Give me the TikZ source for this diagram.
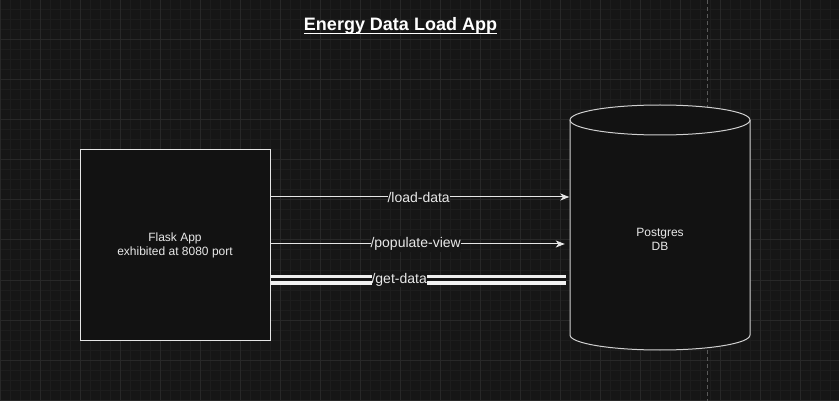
\documentclass[tikz,border=0pt]{standalone}
\usepackage{fontspec}
\setmainfont{Liberation Sans}
\usetikzlibrary{arrows.meta}
\definecolor{bgc}{HTML}{161616}
\definecolor{minorc}{HTML}{1D1D1D}
\definecolor{majorc}{HTML}{282828}
\definecolor{shapefill}{HTML}{121212}
\definecolor{strokec}{HTML}{E6E6E6}
\definecolor{txtc}{HTML}{E8E8E8}
\definecolor{dashc}{HTML}{5A5A5A}
\tikzset{
  minorline/.style={draw=minorc, line width=1pt},
  majorline/.style={draw=majorc, line width=1pt},
  boxshape/.style={draw=strokec, fill=shapefill, line width=1pt, minimum width=190pt, minimum height=190pt, inner sep=0pt},
  cyl/.style={draw=strokec!90!black, fill=shapefill, line width=1pt},
  plain/.style={text=txtc, font=\fontsize{12pt}{14pt}\selectfont, align=center, inner sep=0pt},
  flow/.style={draw=strokec, line width=1pt, -{Stealth[length=9pt,width=7pt,inset=2.5pt]}},
  dbl/.style={draw=white!94!black, line width=3.5pt, double=bgc, double distance=3pt},
  elabel/.style={fill=bgc, text=txtc, font=\fontsize{14pt}{16pt}\selectfont, inner xsep=0pt, inner ysep=1pt},
  titlestyle/.style={text=white, font=\fontsize{18pt}{20pt}\selectfont\bfseries, inner sep=0pt, anchor=base}
}
\begin{document}
\begin{tikzpicture}[x=1pt, y=-1pt]
\useasboundingbox (0,0) rectangle (839,401);
\fill[bgc] (0,0) rectangle (839,401);
% grid
\foreach \x in {10,20,...,830} \draw[minorline] (\x,0) -- (\x,401);
\foreach \y in {10,20,...,400} \draw[minorline] (0,\y) -- (839,\y);
\foreach \x in {0,40,...,800} \draw[majorline] (\x,0) -- (\x,401);
\foreach \y in {0,40,...,400} \draw[majorline] (0,\y) -- (839,\y);
% dashed guide
\coordinate (gtop) at (707,0);
\coordinate (gbot) at (707,401);
\draw[dashc, line width=1pt, dash pattern=on 4pt off 3pt] (gtop) -- (gbot);
% title
\node[titlestyle] (title) at (400.5,31) {Energy Data Load App};
\draw[white, line width=1.3pt] ([yshift=-2.3pt]title.base west) -- ([yshift=-2.3pt]title.base east);
% flask box
\node[boxshape] (app) at (175,245) {};
\node[plain] (apptext) at (175,245) {Flask App\\exhibited at 8080 port};
% cylinder
\filldraw[cyl] (570,120) -- (570,335) arc[start angle=180, end angle=360, x radius=90pt, y radius=15pt]
  -- (750,120) arc[start angle=0, end angle=180, x radius=90pt, y radius=15pt] -- cycle;
\draw[cyl, fill=none] (570,120) arc[start angle=180, end angle=360, x radius=90pt, y radius=15pt];
\node[minimum width=180pt, minimum height=245pt, inner sep=0pt] (db) at (660,227.5) {};
\node[plain] (dbtext) at (660,239) {Postgres\\DB};
% connectors
\coordinate (l1) at ([yshift=48pt]app.east);
\coordinate (l2) at ([yshift=1pt]app.east);
\coordinate (l3) at ([yshift=-34.5pt]app.east);
\draw[flow, shorten >=0.5pt] (l1) -- (l1 -| db.west) node[elabel, pos=0.495] (t1) {/load-data};
\draw[flow, shorten >=5pt] (l2) -- (l2 -| db.west) node[elabel, pos=0.485] (t2) {/populate-view};
\draw[dbl, shorten >=4pt] (l3) -- (l3 -| db.west) node[elabel, pos=0.43] (t3) {/get-data};
\end{tikzpicture}
\end{document}
